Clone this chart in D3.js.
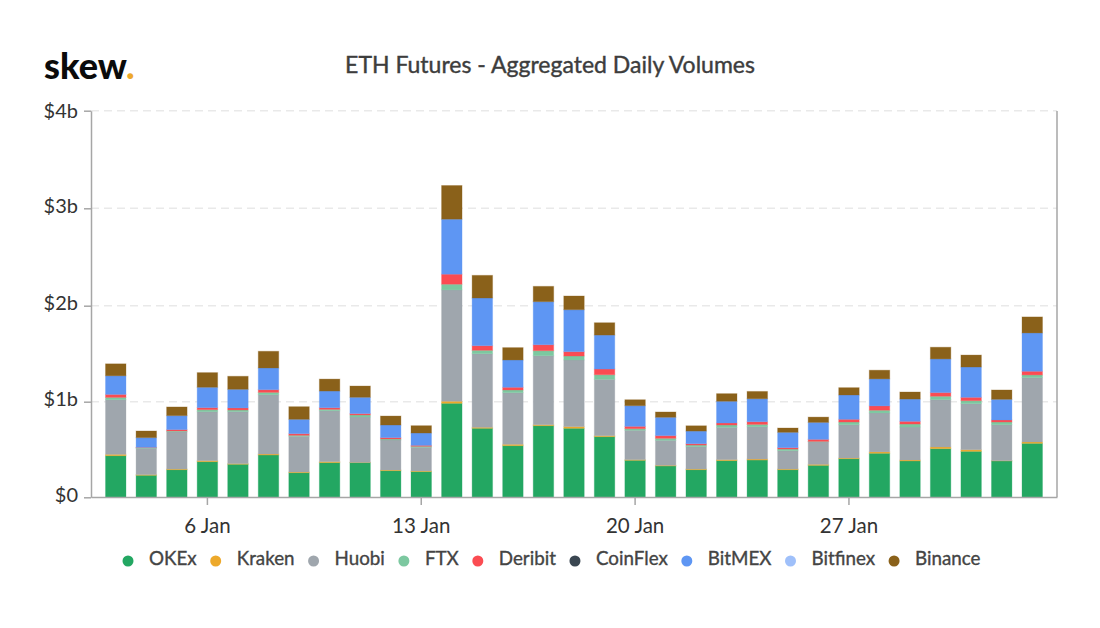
<!DOCTYPE html>
<html>
<head>
<meta charset="utf-8">
<script src="https://cdnjs.cloudflare.com/ajax/libs/d3/7.8.5/d3.min.js"></script>
<style>
  html, body { margin: 0; background: #fff; }
  text { font-family: Lato, sans-serif; }
  .tick text { font-size: 20px; fill: #333; }
</style>
</head>
<body>
<div id="chart"></div>
<script>
// ETH futures daily volumes, $b
var days = ['3 Jan','4 Jan','5 Jan','6 Jan','7 Jan','8 Jan','9 Jan','10 Jan','11 Jan','12 Jan','13 Jan',
  '14 Jan','15 Jan','16 Jan','17 Jan','18 Jan','19 Jan','20 Jan','21 Jan','22 Jan','23 Jan','24 Jan',
  '25 Jan','26 Jan','27 Jan','28 Jan','29 Jan','30 Jan','31 Jan','1 Feb','2 Feb'];
var exchanges = ['OKEx','Kraken','Huobi','FTX','Deribit','CoinFlex','BitMEX','Bitfinex','Binance'];
var colors = ['#23a762','#eda92b','#9fa6ad','#7cc8a0','#fb4c52','#3a4651','#5e96f3','#9fc0fa','#8a611a'];
var xTicks = ['6 Jan','13 Jan','20 Jan','27 Jan'];
var yTicks = [0, 1, 2, 3, 4];

var okex = [.428,.225,.283,.366,.339,.435,.252,.356,.356,.273,.263,.971,.712,.532,.739,.712,.625,.380,.321,.283,.377,.383,.283,.328,.397,.453,.373,.501,.473,.373,.556];
var kraken = [.014,.007,.007,.010,.007,.010,.007,.010,.003,.007,.007,.021,.010,.014,.010,.017,.010,.007,.007,.007,.010,.010,.007,.010,.007,.014,.010,.017,.017,.003,.014];
var huobi = [.566,.273,.387,.508,.539,.615,.370,.528,.470,.311,.245,1.154,.763,.535,.715,.691,.584,.304,.259,.231,.335,.335,.190,.235,.345,.404,.342,.491,.477,.373,.667];
var ftx = [.024,.007,.007,.021,.017,.024,.010,.014,.021,.010,.010,.059,.035,.028,.052,.041,.048,.017,.021,.017,.024,.024,.017,.003,.028,.028,.031,.035,.031,.028,.028];
var deribit = [.031,.003,.014,.021,.021,.028,.017,.017,.014,.014,.010,.104,.048,.028,.062,.045,.059,.024,.028,.014,.021,.028,.014,.021,.028,.045,.028,.038,.035,.021,.038];
var coinflex = [0,0,0,0,0,0,0,0,0,0,0,0,0,0,0,0,0,0,0,0,0,0,0,0,0,0,0,0,0,0,0];
var bitmex = [.193,.100,.145,.211,.193,.225,.149,.173,.169,.131,.128,.570,.494,.283,.446,.435,.352,.214,.190,.131,.225,.238,.159,.176,.252,.280,.231,.349,.314,.214,.397];
var bitfinex = [0,0,0,0,0,0,0,0,0,0,0,0,0,0,0,0,0,0,0,0,0,0,0,0,0,0,0,0,0,0,0];
var binance = [.124,.069,.090,.152,.135,.173,.131,.124,.117,.093,.076,.349,.235,.128,.159,.142,.128,.062,.055,.055,.079,.076,.045,.055,.076,.090,.073,.121,.124,.097,.166];

var seriesValues = [okex, kraken, huobi, ftx, deribit, coinflex, bitmex, bitfinex, binance];

var width = 1100, height = 628;
var left = 91, right = 1057, top_ = 111, bottom = 497;

var svg = d3.select('#chart').append('svg')
  .attr('width', width)
  .attr('height', height)
  .style('display', 'block');

var x = d3.scaleBand().domain(days).range([left, right]).paddingInner(0.33).paddingOuter(0.475);
var y = d3.scaleLinear().domain([0, 4]).range([bottom, top_]);
// the ticks in the picture are not quite evenly spaced, so the axis gets its own stops
var yGrid = d3.scaleLinear().domain(yTicks).range([497.3, 401.7, 305.7, 208.3, 110.7]);

// table for d3.stack, one row per day
var rows = days.map(function(d, i) {
  var row = {day: d};
  exchanges.forEach(function(name, j) { row[name] = seriesValues[j][i]; });
  return row;
});
var stacked = d3.stack().keys(exchanges)(rows);

// grid
svg.append('g').selectAll('line').data(yTicks.slice(1)).enter()
  .append('line')
  .attr('x1', left).attr('x2', right)
  .attr('y1', function(d) {return yGrid(d);})
  .attr('y2', function(d) {return yGrid(d);})
  .attr('stroke', '#e9e9e9')
  .attr('stroke-width', 1.5)
  .attr('stroke-dasharray', '8 5');

// bars
svg.append('g').selectAll('g').data(stacked).enter()
  .append('g')
  .attr('fill', function(d, i) {return colors[i];})
  .attr('stroke', function(d, i) {return colors[i];})
  .attr('stroke-opacity', 0.3)
  .selectAll('rect').data(function(d) {return d;}).enter()
  .append('rect')
  .attr('x', function(d) {return x(d.data.day);})
  .attr('width', x.bandwidth())
  .attr('y', function(d) {return y(d[1]);})
  .attr('height', function(d) {return y(d[0]) - y(d[1]);});

// axes
var yAxis = d3.axisLeft(yGrid).tickValues(yTicks).tickSize(7).tickSizeOuter(0).tickPadding(6)
  .tickFormat(function(d) {return '$' + d + (d ? 'b' : '');});
var xAxis = d3.axisBottom(x).tickValues(xTicks).tickSize(8).tickSizeOuter(0).tickPadding(10);

var gy = svg.append('g').attr('transform', 'translate(' + left + ',0)').call(yAxis);
var gx = svg.append('g').attr('transform', 'translate(0,' + bottom + ')').call(xAxis);
gy.selectAll('path, line').attr('stroke', '#a6a6a6').attr('stroke-width', 1.5);
gx.selectAll('path, line').attr('stroke', '#a6a6a6').attr('stroke-width', 1.5);
gx.selectAll('text').attr('dy', '0.9em').style('font-size', '20.5px');
// top label sits level with its tick, the others a little above
gy.selectAll('text').attr('dy', function(d) {return d === 4 ? '0.32em' : '0.2em';});

svg.append('line')
  .attr('x1', right).attr('x2', right)
  .attr('y1', top_).attr('y2', bottom)
  .attr('stroke', '#a6a6a6')
  .attr('stroke-width', 1.5);

// title and logo
svg.append('text')
  .attr('x', 550).attr('y', 73)
  .attr('text-anchor', 'middle')
  .attr('font-size', 23)
  .attr('fill', '#3d3d3d')
  .attr('stroke', '#3d3d3d')
  .attr('stroke-width', 0.4)
  .text('ETH Futures - Aggregated Daily Volumes');

var logo = svg.append('text')
  .attr('x', 44).attr('y', 79)
  .attr('font-size', 36)
  .attr('font-weight', 900)
  .attr('fill', '#0b0b0b')
  .text('skew');
logo.append('tspan').attr('fill', '#eda92b').text('.');

// legend, laid out by measured text width
var legendX = 128;
exchanges.forEach(function(name, i) {
  svg.append('circle')
    .attr('cx', legendX).attr('cy', 561).attr('r', 5.5)
    .attr('fill', colors[i]);
  var label = svg.append('text')
    .attr('x', legendX + 21).attr('y', 564.5)
    .attr('font-size', 18.8)
    .attr('fill', '#444')
    .attr('stroke', '#444')
    .attr('stroke-width', 0.35)
    .text(name);
  legendX += 21 + label.node().getComputedTextLength() + 19;
});
</script>
</body>
</html>
